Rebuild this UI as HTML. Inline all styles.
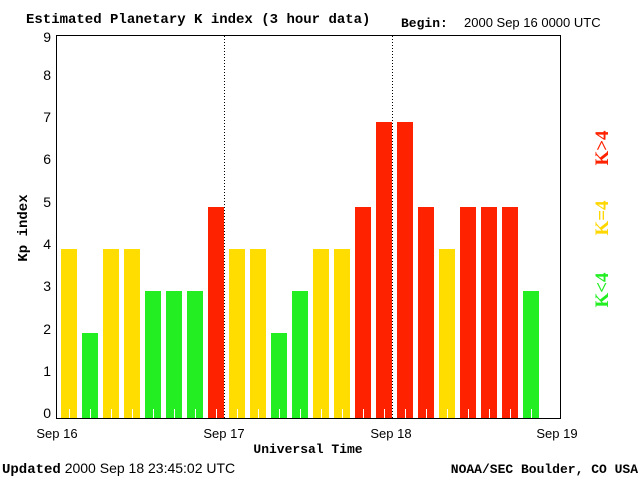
<!DOCTYPE html>
<html><head><style>body{margin:0;background:#fff}</style></head><body>
<svg width="640" height="480" xmlns="http://www.w3.org/2000/svg" font-family="Liberation Sans, sans-serif">
<rect width="640" height="480" fill="#fff"/>
<text x="26" y="23" font-family="Liberation Mono, monospace" font-weight="bold" font-size="14">Estimated Planetary K index (3 hour data)</text>
<text x="401" y="27" font-family="Liberation Mono, monospace" font-weight="bold" font-size="13">Begin:</text>
<text x="464" y="27" font-size="13">2000 Sep 16 0000 UTC</text>
<g font-size="14" text-anchor="end">
<text x="51" y="418">0</text><text x="51" y="376">1</text><text x="51" y="334">2</text><text x="51" y="291">3</text><text x="51" y="249">4</text><text x="51" y="207">5</text><text x="51" y="164">6</text><text x="51" y="122">7</text><text x="51" y="80">8</text><text x="51" y="42">9</text>
</g>
<text transform="translate(27,228) rotate(-90)" text-anchor="middle" font-family="Liberation Mono, monospace" font-weight="bold" font-size="14">Kp index</text>
<g>
<rect x="61" y="249" width="16" height="169" fill="#ffdd00"/>
<rect x="82" y="333" width="16" height="85" fill="#22ee22"/>
<rect x="103" y="249" width="16" height="169" fill="#ffdd00"/>
<rect x="124" y="249" width="16" height="169" fill="#ffdd00"/>
<rect x="145" y="291" width="16" height="127" fill="#22ee22"/>
<rect x="166" y="291" width="16" height="127" fill="#22ee22"/>
<rect x="187" y="291" width="16" height="127" fill="#22ee22"/>
<rect x="208" y="207" width="16" height="211" fill="#ff2200"/>
<rect x="229" y="249" width="16" height="169" fill="#ffdd00"/>
<rect x="250" y="249" width="16" height="169" fill="#ffdd00"/>
<rect x="271" y="333" width="16" height="85" fill="#22ee22"/>
<rect x="292" y="291" width="16" height="127" fill="#22ee22"/>
<rect x="313" y="249" width="16" height="169" fill="#ffdd00"/>
<rect x="334" y="249" width="16" height="169" fill="#ffdd00"/>
<rect x="355" y="207" width="16" height="211" fill="#ff2200"/>
<rect x="376" y="122" width="16" height="296" fill="#ff2200"/>
<rect x="397" y="122" width="16" height="296" fill="#ff2200"/>
<rect x="418" y="207" width="16" height="211" fill="#ff2200"/>
<rect x="439" y="249" width="16" height="169" fill="#ffdd00"/>
<rect x="460" y="207" width="16" height="211" fill="#ff2200"/>
<rect x="481" y="207" width="16" height="211" fill="#ff2200"/>
<rect x="502" y="207" width="16" height="211" fill="#ff2200"/>
<rect x="523" y="291" width="16" height="127" fill="#22ee22"/>
</g>
<path stroke="#fff" d="M69.5 409V418M90.5 409V418M111.5 409V418M132.5 409V418M153.5 409V418M174.5 409V418M195.5 409V418M216.5 409V418M237.5 409V418M258.5 409V418M279.5 409V418M300.5 409V418M321.5 409V418M342.5 409V418M363.5 409V418M384.5 409V418M405.5 409V418M426.5 409V418M447.5 409V418M468.5 409V418M489.5 409V418M510.5 409V418M531.5 409V418"/>
<line x1="224.5" y1="36" x2="224.5" y2="418" stroke="#000" stroke-dasharray="1,2"/>
<line x1="392.5" y1="36" x2="392.5" y2="418" stroke="#000" stroke-dasharray="1,2"/>
<rect x="56.5" y="35.5" width="504" height="383" fill="none" stroke="#000"/>
<g font-size="13" text-anchor="middle">
<text x="57" y="438">Sep 16</text><text x="224" y="438">Sep 17</text><text x="391" y="438">Sep 18</text><text x="557" y="438">Sep 19</text>
</g>
<text x="308" y="453" text-anchor="middle" font-family="Liberation Mono, monospace" font-weight="bold" font-size="13">Universal Time</text>
<text x="2" y="473" font-size="14"><tspan font-family="Liberation Mono, monospace" font-weight="bold">Updated</tspan> 2000 Sep 18 23:45:02 UTC</text>
<text x="638" y="473" text-anchor="end" font-family="Liberation Mono, monospace" font-weight="bold" font-size="13">NOAA/SEC Boulder, CO USA</text>
<g font-family="Liberation Serif, serif" font-weight="bold" font-size="19" text-anchor="middle">
<text transform="translate(608,148) rotate(-90)" fill="#ff2200">K&gt;4</text>
<text transform="translate(608,218) rotate(-90)" fill="#ffd700">K=4</text>
<text transform="translate(608,290) rotate(-90)" fill="#22ee22">K&lt;4</text>
</g>
</svg>
</body></html>
